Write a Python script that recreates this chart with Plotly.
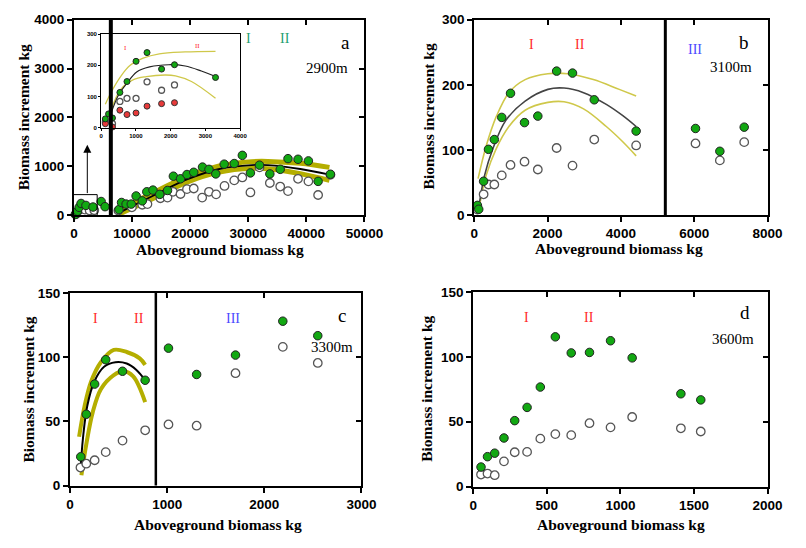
import plotly.graph_objects as go

# ---------------- DATA ----------------
# Panel a (2900m) main
a_green_x = [223, 613, 892, 1226, 2062, 3289, 4682, 5351,
             7748, 8194, 8975, 9866, 10702, 11761, 12542, 13601, 14771, 16109, 17113, 18339,
             19454, 20624, 22129, 23244, 24415, 25864, 27592, 28986, 30379, 31940, 33724,
             35507, 36845, 38573, 40357, 42029, 44147]
a_green_y = [13, 80, 160, 239, 199, 166, 279, 173,
             113, 259, 226, 226, 392, 292, 478, 512, 425, 505, 797, 744,
             831, 877, 983, 937, 844, 1043, 1056, 1223, 864, 1023, 844,
             937, 1156, 1143, 1110, 691, 837]
a_open_x = [330, 1000, 1900, 2700, 3500,
            7637, 9978, 11761, 12653, 14883, 16109, 17057, 18339, 19454, 20624, 22074,
            23244, 24471, 25920, 27592, 28986, 30379, 31940, 33724, 35507, 36845, 38573,
            40357, 42029, 44147]
a_open_y = [20, 110, 113, 95, 100,
            93, 160, 213, 226, 346, 359, 478, 432, 532, 545, 359,
            478, 425, 598, 711, 771, 465, 977, 658, 585, 492, 744,
            691, 412, 824]
a_fit_x = [7748, 13880, 19454, 25028, 30602, 33389, 38963, 43980]
a_fit_y = [47, 412, 731, 944, 1023, 1023, 944, 831]
a_up_y = [120, 470, 790, 1005, 1095, 1100, 1060, 977]
a_lo_y = [20, 355, 675, 880, 957, 950, 850, 711]
a_break = 6350

# Panel a inset
in_green_x = [121, 214, 326, 540, 744, 1005, 1321, 1740, 2112, 3293]
in_green_y = [28, 44, 31, 113, 148, 213, 241, 188, 202, 161]
in_open_x = [121, 326, 540, 744, 1005, 1321, 1740, 2112]
in_open_y = [18, 12.5, 84, 94, 94, 147, 120, 137]
in_red_x = [121, 326, 540, 744, 1005, 1321, 1740, 2112]
in_red_y = [12.5, 2, 56, 42, 47, 69, 77, 80]
in_fit_x = [280, 510, 744, 1023, 1395, 1953, 2420, 2884, 3293]
in_fit_y = [44, 107, 143, 179, 195, 202, 198, 182, 164]
in_up_x = [121, 280, 560, 837, 1209, 1674, 2420, 3293]
in_up_y = [75, 112, 164, 200, 223, 237, 243, 245]
in_lo_x = [280, 558, 930, 1300, 1860, 2140, 2600, 3293]
in_lo_y = [54, 122, 154, 164, 169, 166, 148, 94]

# Panel b (3100m)
b_green_x = [88, 124, 257, 389, 549, 752, 991, 1372, 1735, 2248, 2681, 3274, 4416, 6035, 6699, 7363]
b_green_y = [15, 9, 52, 101, 116, 150, 187, 142, 152, 221, 218, 177, 129, 133, 98, 135]
b_open_x = [88, 257, 389, 549, 752, 991, 1372, 1735, 2248, 2681, 3274, 4416, 6035, 6699, 7363]
b_open_y = [8.5, 32, 47, 47, 61, 77, 82, 70, 103, 76, 116, 107, 110, 84, 112]
b_fit_x = [150, 283, 504, 858, 1389, 2009, 2451, 2982, 3602, 4044, 4416]
b_fit_y = [21, 61, 101, 145, 175, 193, 195, 188, 170, 153, 136]
b_up_x = [106, 327, 593, 947, 1389, 2009, 2540, 3248, 3956, 4416]
b_up_y = [56, 106, 150, 188, 208, 217, 217, 208, 193, 183]
b_lo_x = [150, 327, 593, 947, 1389, 2009, 2451, 2982, 3602, 4044, 4416]
b_lo_y = [16, 61, 101, 136, 161, 173, 174, 163, 136, 113, 91]
b_break = 5212

# Panel c (3300m)
c_green_x = [110, 167, 253, 367, 540, 773, 1013, 1303, 1703, 2190, 2550]
c_green_y = [22.4, 55.5, 79, 98, 89, 82, 107, 86.5, 101.6, 128, 116.7]
c_open_x = [107, 167, 253, 367, 540, 773, 1013, 1303, 1703, 2190, 2550]
c_open_y = [14, 17, 19.7, 26, 35, 43, 47.6, 46.6, 87.5, 108, 95.5]
c_fit_x = [107, 133, 177, 250, 350, 467, 583, 683, 773]
c_fit_y = [12, 37, 62, 81, 92.5, 96, 95, 90, 82]
c_up_x = [93, 150, 217, 317, 450, 583, 717, 773]
c_up_y = [38, 62, 81, 96, 105.6, 104, 99, 94]
c_lo_x = [117, 167, 233, 317, 450, 550, 650, 773]
c_lo_y = [8, 32, 57, 75, 86, 89, 85, 65]
c_break = 883

# Panel d (3600m)
d_green_x = [53, 97, 146, 209, 282, 366, 456, 558, 666, 790, 933, 1080, 1411, 1546]
d_green_y = [15, 23, 25.7, 37.4, 50.8, 61, 76.7, 115.4, 103, 103.4, 112.4, 99.2, 71.5, 66.8]
d_open_x = [53, 97, 146, 209, 282, 366, 456, 558, 666, 790, 933, 1080, 1411, 1546]
d_open_y = [9.2, 10, 8.7, 19.4, 26.4, 26.7, 36.9, 40.4, 39.6, 48.8, 45.6, 53.6, 44.9, 42.4]

# ---------------- STYLE ----------------
W, H = 806, 548
GREEN = "#12a812"
YEL_THICK = "#b4ae00"
YEL_THIN = "#cfc84a"
SERIF = "Liberation Serif, Times New Roman, serif"
SANS = "Liberation Sans, Arial, sans-serif"


def fx(p):
    return p / W


def fy(p):
    return 1 - p / H


fig = go.Figure()


def pts(x, y, xa, ya, kind, size=8.5):
    if kind == "green":
        m = dict(color=GREEN, size=size, line=dict(color="#222", width=1))
    elif kind == "red":
        m = dict(color="#e83a3a", size=size, line=dict(color="#333", width=1))
    else:
        m = dict(color="white", size=size, line=dict(color="#555", width=1.3))
    fig.add_trace(go.Scatter(x=x, y=y, mode="markers", marker=m, xaxis=xa, yaxis=ya,
                             cliponaxis=False, showlegend=False, hoverinfo="skip"))


def curve(x, y, xa, ya, color, width):
    fig.add_trace(go.Scatter(x=x, y=y, mode="lines", line=dict(color=color, width=width, shape="spline", smoothing=1.0),
                             xaxis=xa, yaxis=ya, cliponaxis=False, showlegend=False, hoverinfo="skip"))


# panel a
curve(a_fit_x, a_up_y, "x", "y", YEL_THICK, 5)
curve(a_fit_x, a_lo_y, "x", "y", YEL_THICK, 5)
curve(a_fit_x, a_fit_y, "x", "y", "black", 1.8)
pts(a_open_x, a_open_y, "x", "y", "open")
pts(a_green_x, a_green_y, "x", "y", "green")

# inset
curve(in_up_x, in_up_y, "x5", "y5", YEL_THIN, 1.3)
curve(in_lo_x, in_lo_y, "x5", "y5", YEL_THIN, 1.3)
curve(in_fit_x, in_fit_y, "x5", "y5", "#222", 1.2)
pts(in_open_x, in_open_y, "x5", "y5", "open", 6)
pts(in_red_x, in_red_y, "x5", "y5", "red", 6)
pts(in_green_x, in_green_y, "x5", "y5", "green", 6)

# panel b
curve(b_up_x, b_up_y, "x2", "y2", YEL_THIN, 1.6)
curve(b_lo_x, b_lo_y, "x2", "y2", YEL_THIN, 1.6)
curve(b_fit_x, b_fit_y, "x2", "y2", "#444", 1.6)
pts(b_open_x, b_open_y, "x2", "y2", "open")
pts(b_green_x, b_green_y, "x2", "y2", "green")

# panel c
curve(c_up_x, c_up_y, "x3", "y3", YEL_THICK, 4)
curve(c_lo_x, c_lo_y, "x3", "y3", YEL_THICK, 4)
curve(c_fit_x, c_fit_y, "x3", "y3", "black", 2)
pts(c_open_x, c_open_y, "x3", "y3", "open")
pts(c_green_x, c_green_y, "x3", "y3", "green")

# panel d
pts(d_open_x, d_open_y, "x4", "y4", "open")
pts(d_green_x, d_green_y, "x4", "y4", "green")

tickfont = dict(family=SANS, size=13.5, color="black", weight="bold")


def ax(dom, rng, dtick, anchor, tf=tickfont, lw=2, tl=5, tw=2):
    return dict(domain=dom, range=rng, dtick=dtick, tick0=0, anchor=anchor, showgrid=False, zeroline=False,
                showline=True, linecolor="black", linewidth=lw, mirror=True, ticks="outside",
                ticklen=tl, tickwidth=tw, tickcolor="black", tickfont=tf, tickformat="d")


def mirror_ax(base, rng, dtick, side, anchor):
    return dict(overlaying=base, range=rng, dtick=dtick, tick0=0, side=side, anchor=anchor,
                showgrid=False, zeroline=False, showline=False, ticks="inside", ticklen=5,
                tickwidth=2, tickcolor="black", showticklabels=False)


# domains (pixels)
A = (72, 371, 13, 214)
B = (484, 786, 13, 214)
C = (68, 368, 294, 492)
D = (483, 786, 293, 493)
I = (100, 243, 28, 124)


def xd(p):
    return [fx(p[0]), fx(p[1])]


def yd(p):
    return [fy(p[3]), fy(p[2])]


small = dict(family=SANS, size=6, color="black", weight="bold")
fig.update_layout(
    width=W, height=H, margin=dict(l=0, r=0, t=0, b=0),
    paper_bgcolor="white", plot_bgcolor="rgba(0,0,0,0)",
    xaxis=ax(xd(A), [0, 50000], 10000, "y"), yaxis=ax(yd(A), [0, 4000], 1000, "x"),
    xaxis2=ax(xd(B), [0, 8000], 2000, "y2"), yaxis2=ax(yd(B), [0, 300], 100, "x2"),
    xaxis3=ax(xd(C), [0, 3000], 1000, "y3"), yaxis3=ax(yd(C), [0, 150], 50, "x3"),
    xaxis4=ax(xd(D), [0, 2000], 500, "y4"), yaxis4=ax(yd(D), [0, 150], 50, "x4"),
    xaxis5=ax(xd(I), [0, 4000], 1000, "y5", small, 1, 2, 1),
    yaxis5=ax(yd(I), [0, 300], 100, "x5", small, 1, 2, 1),
    xaxis6=mirror_ax("x", [0, 50000], 10000, "top", "y"),
    yaxis6=mirror_ax("y", [0, 4000], 1000, "right", "x"),
    xaxis7=mirror_ax("x2", [0, 8000], 2000, "top", "y2"),
    yaxis7=mirror_ax("y2", [0, 300], 100, "right", "x2"),
    xaxis8=mirror_ax("x3", [0, 3000], 1000, "top", "y3"),
    yaxis8=mirror_ax("y3", [0, 150], 50, "right", "x3"),
    xaxis9=mirror_ax("x4", [0, 2000], 500, "top", "y4"),
    yaxis9=mirror_ax("y4", [0, 150], 50, "right", "x4"),
)
for k in ["xaxis", "yaxis", "xaxis2", "yaxis2", "xaxis3", "yaxis3", "xaxis4", "yaxis4"]:
    fig.layout[k].mirror = True

# invisible traces to activate the mirror axes
for xa, ya in [("x6", "y6"), ("x7", "y7"), ("x8", "y8"), ("x9", "y9")]:
    fig.add_trace(go.Scatter(x=[None], y=[None], xaxis=xa, yaxis=ya, showlegend=False, hoverinfo="skip"))

shapes = []
shapes.append(dict(type="rect", xref="paper", yref="paper", x0=fx(I[0]), x1=fx(I[1]), y0=fy(I[3]), y1=fy(I[2]),
                   fillcolor="white", line=dict(width=0), layer="below"))
shapes.append(dict(type="line", xref="x", yref="y domain", x0=a_break, x1=a_break, y0=0, y1=1,
                   line=dict(color="black", width=4)))
shapes.append(dict(type="line", xref="x2", yref="y2 domain", x0=b_break, x1=b_break, y0=0, y1=1,
                   line=dict(color="black", width=3)))
shapes.append(dict(type="line", xref="x3", yref="y3 domain", x0=c_break, x1=c_break, y0=0, y1=1,
                   line=dict(color="black", width=2.5)))
shapes.append(dict(type="rect", xref="x", yref="y", x0=-700, x1=4000, y0=-60, y1=420,
                   line=dict(color="black", width=1)))
fig.update_layout(shapes=shapes)

ann = []


def text(x, y, s, size, color="black", family=SERIF, bold=False, angle=0):
    f = dict(family=family, size=size, color=color)
    if bold:
        f["weight"] = "bold"
    ann.append(dict(x=fx(x), y=fy(y), xref="paper", yref="paper", text=s, showarrow=False,
                    font=f, textangle=angle, xanchor="center", yanchor="middle"))


ann.append(dict(x=2300, y=1440, ax=2300, ay=420, xref="x", yref="y", axref="x", ayref="y",
                showarrow=True, arrowhead=2, arrowsize=1.6, arrowwidth=1, arrowcolor="black", text=""))

for (xt, yt) in [((222, 249), (20, 113)), ((633, 248), (437, 113)),
                 ((220, 532), (25, 393)), ((635, 532), (435, 393))]:
    text(xt[0], xt[1], "Aboveground biomass kg", 15.5, bold=True)
    text(yt[0], yt[1], "Biomass increment kg", 15.5, bold=True, angle=-90)

TEAL = "#1f9f6f"
RED = "#ff2a2a"
BLUE = "#4a4aff"
text(252, 32, "I", 14, TEAL)
text(289, 32, "II", 14, TEAL)
text(352, 36, "a", 19)
text(333, 63, "2900m", 15)
text(125, 42, "I", 7, RED)
text(199, 40, "II", 7, RED)
text(543, 39, "I", 14, RED)
text(593, 39, "II", 14, RED)
text(711, 44, "III", 14, BLUE)
text(762, 36, "b", 19)
text(748, 62, "3100m", 15)
text(94, 320, "I", 14, RED)
text(139, 320, "II", 14, RED)
text(236, 320, "III", 14, BLUE)
text(348, 317, "c", 19)
text(338, 350, "3300m", 15)
text(538, 319, "I", 14, RED)
text(602, 319, "II", 14, RED)
text(763, 314, "d", 19)
text(750, 341, "3600m", 15)

fig.update_layout(annotations=ann)
fig.write_html("out.html")
